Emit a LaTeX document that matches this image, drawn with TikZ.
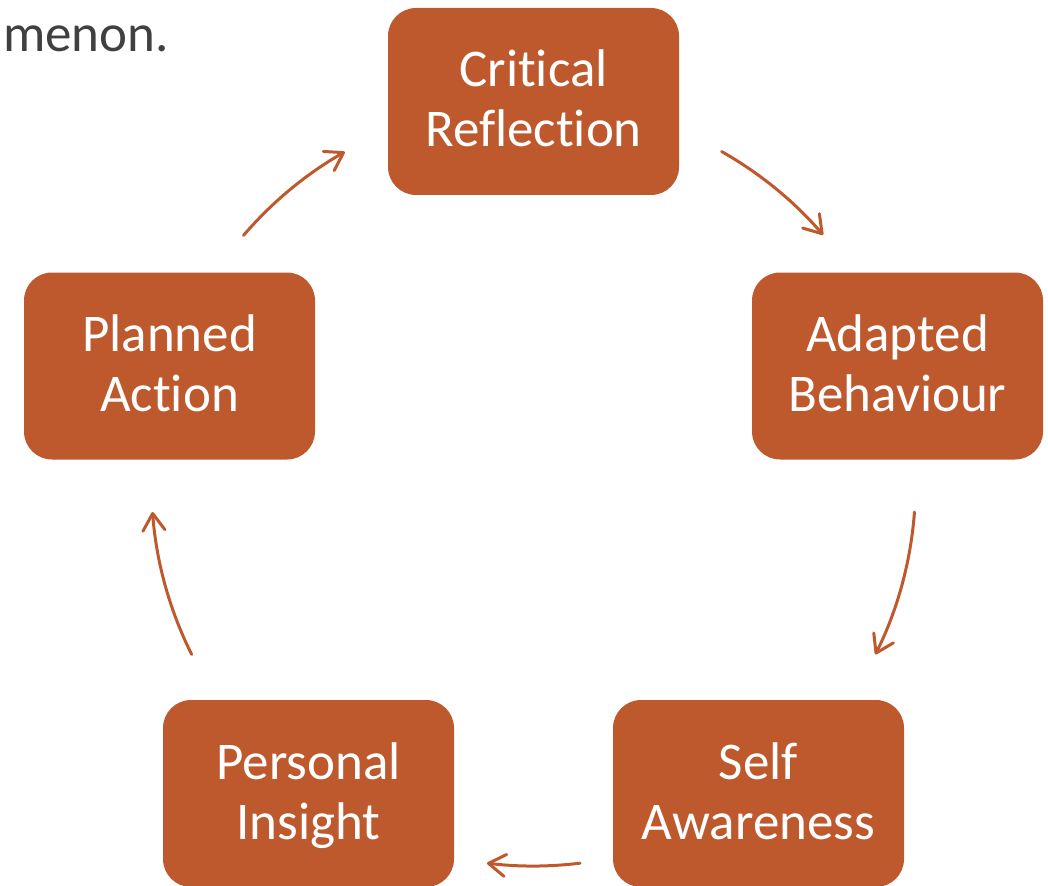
\documentclass[tikz,border=0pt]{standalone}
\usepackage{fontspec}
\setmainfont[Ligatures=NoCommon]{Carlito}
\usetikzlibrary{arrows.meta}
\definecolor{rust}{RGB}{190,89,46}
\definecolor{bodytext}{RGB}{64,64,64}
% fixed struts so every two-line label sits at the same height in its box
\newcommand\toprow{\rule{0pt}{43pt}}
\newcommand\botrow{\rule[-12pt]{0pt}{12pt}}
\begin{document}
\begin{tikzpicture}[x=1pt,y=1pt,
  stagebox/.style={rectangle, rounded corners=28pt, fill=rust, draw=none,
    minimum width=291pt, minimum height=187pt, inner sep=0pt,
    text=white, align=center,
    font=\fontsize{53}{60}\selectfont},
  cyclearrow/.style={draw=rust, line width=3pt, line cap=round,
    -{Straight Barb[length=17pt,width=22pt,line width=3pt,round]}}]
\useasboundingbox (0,0) rectangle (1048,-885);
\clip (0,0) rectangle (1048,-885);

% tail of the preceding sentence
\node[anchor=base west, inner sep=0pt, text=bodytext,
  font=\fontsize{53}{62}\selectfont] (tail) at (3,-52) {menon.};

% stages of the cycle
\node[stagebox] (cr) at (533.5,-101.5) {\toprow Critical\\Reflection\botrow};
\node[stagebox] (ab) at (897.5,-366)   {\toprow Adapted\\Behaviour\botrow};
\node[stagebox] (sa) at (758.5,-793.5) {\toprow Self\\Awareness\botrow};
\node[stagebox] (pi) at (308.5,-793.5) {\toprow Personal\\Insight\botrow};
\node[stagebox] (pa) at (169.5,-366)   {\toprow Planned\\Action\botrow};

% centre of the cycle; the connectors are arcs around it
\coordinate (O) at (533.5,-484);

\draw[cyclearrow] ([shift={(60.5:382pt)}]O) arc[start angle=60.5, end angle=40.7, radius=382pt];
\draw[cyclearrow] ([shift={(-4.2:382pt)}]O) arc[start angle=-4.2, end angle=-26.5, radius=382pt];
\draw[cyclearrow] ([shift={(-83:382pt)}]O) arc[start angle=-83, end angle=-97, radius=382pt];
\draw[cyclearrow] ([shift={(206.5:382pt)}]O) arc[start angle=206.5, end angle=184.2, radius=382pt];
\draw[cyclearrow] ([shift={(139.4:382pt)}]O) arc[start angle=139.4, end angle=119.6, radius=382pt];
\end{tikzpicture}
\end{document}
